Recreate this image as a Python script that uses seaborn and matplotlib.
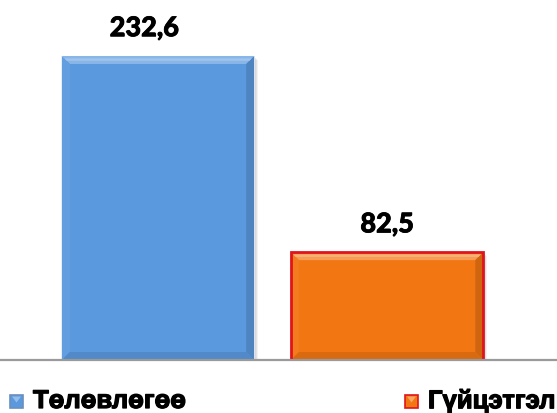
import numpy as np
import pandas as pd
import seaborn as sns
import matplotlib
matplotlib.use("Agg")
import matplotlib.pyplot as plt
from matplotlib.patches import Polygon, Rectangle
from matplotlib.colors import to_rgb
import matplotlib.patheffects as pe

# Plan vs. performance
categories = ["Төлөвлөгөө", "Гүйцэтгэл"]
values = [232.6, 82.5]
value_labels = ["232,6", "82,5"]
fills = ["#5B99DF", "#F27612"]
borders = ["#4A7FBF", "#E0141B"]

W, H, DPI = 557, 414, 100


def mix(c, other, t):
    a = np.array(to_rgb(c))
    b = np.array(to_rgb(other))
    return tuple(a * (1 - t) + b * t)


sns.set_theme(style="white")
plt.rcParams["font.family"] = ["Liberation Sans", "DejaVu Sans"]

fig = plt.figure(figsize=(W / DPI, H / DPI), dpi=DPI)
base_px = 361
ax = fig.add_axes([0, (H - base_px) / H, 1, base_px / H])

df = pd.DataFrame({"cat": categories, "val": values})
sns.barplot(data=df, x="cat", y="val", hue="cat", palette=fills,
            saturation=1, width=0.84, legend=False, ax=ax, zorder=3)

xlim = (-0.690, 1.742)
ylim = (0, 276.2)
ax.set_xlim(*xlim)
ax.set_ylim(*ylim)
pxx = W / (xlim[1] - xlim[0])
pxy = base_px / (ylim[1] - ylim[0])

for sp in ["top", "left", "right"]:
    ax.spines[sp].set_visible(False)
ax.spines["bottom"].set_color("#9A9A9A")
ax.spines["bottom"].set_linewidth(1.6)
ax.spines["bottom"].set_zorder(6)
ax.set_xticks([])
ax.set_yticks([])
ax.set_xlabel("")
ax.set_ylabel("")

# label nudges (points) for the value annotations
label_dx = [-10, 0]

bev = 8
bx, by = bev / pxx, bev / pxy
for i, p in enumerate(ax.patches):
    x0, y0 = p.get_x(), p.get_y()
    w, h = p.get_width(), p.get_height()
    x1, y1 = x0 + w, y0 + h
    c = fills[i]
    # soft drop shadow
    for k, a in [(4, 0.08), (3, 0.10), (2, 0.14)]:
        ax.add_patch(Rectangle((x0 + k / pxx, y0), w, h - k / pxy,
                               color="#606060", alpha=a, lw=0, zorder=2))
    faces = [
        ([(x0, y1), (x1, y1), (x1 - bx, y1 - by), (x0 + bx, y1 - by)], mix(c, "white", 0.28)),
        ([(x0, y0), (x0, y1), (x0 + bx, y1 - by), (x0 + bx, y0 + by)], mix(c, "white", 0.05)),
        ([(x1, y0), (x1, y1), (x1 - bx, y1 - by), (x1 - bx, y0 + by)], mix(c, "black", 0.14)),
        ([(x0, y0), (x1, y0), (x1 - bx, y0 + by), (x0 + bx, y0 + by)], mix(c, "black", 0.10)),
    ]
    for pts, col in faces:
        ax.add_patch(Polygon(pts, closed=True, facecolor=col, edgecolor="none", zorder=4))
    # highlight strip along the top bevel
    ax.add_patch(Polygon([(x0 + bx * 0.3, y1 - by * 0.3), (x1 - bx * 0.3, y1 - by * 0.3),
                          (x1 - bx * 0.6, y1 - by * 0.6), (x0 + bx * 0.6, y1 - by * 0.6)],
                         closed=True, facecolor=mix(c, "white", 0.42), edgecolor="none", zorder=4))
    if i == 1:
        ax.add_patch(Rectangle((x0, y0), w, h, facecolor="none",
                               edgecolor=borders[i], lw=2.0, zorder=5))
    ax.annotate(value_labels[i], (x0 + w / 2, y1), xytext=(label_dx[i], 20),
                textcoords="offset points", ha="center", va="center",
                fontsize=19.5, fontweight="black", family=["Lato", "DejaVu Sans"],
                color="black", zorder=7,
                path_effects=[pe.withStroke(linewidth=0.6, foreground="black")])

# legend entries
legend_x = [10, 405]
legend_y = 402
for i, name in enumerate(categories):
    lx = legend_x[i]
    sq = 13
    fx, fy = lx / W, 1 - (legend_y + sq / 2) / H
    fig.patches.append(Rectangle((fx, fy), sq / W, sq / H, transform=fig.transFigure,
                                 facecolor=fills[i], edgecolor=(borders[i] if i == 1 else "#6A8FBF"),
                                 lw=1.2, figure=fig))
    tri = Polygon([(fx + 2 / W, fy + (sq - 2) / H), (fx + (sq - 2) / W, fy + (sq - 2) / H),
                   (fx + sq / 2 / W, fy + 5 / H)], closed=True, transform=fig.transFigure,
                  facecolor=mix(fills[i], "white", 0.35), edgecolor="none", figure=fig)
    fig.patches.append(tri)
    fig.text((lx + 23) / W, 1 - legend_y / H, name, ha="left", va="center",
             fontsize=18.5, fontweight="bold", color="black",
             path_effects=[pe.withStroke(linewidth=0.9, foreground="black")])

fig.savefig("out.png", dpi=DPI)
